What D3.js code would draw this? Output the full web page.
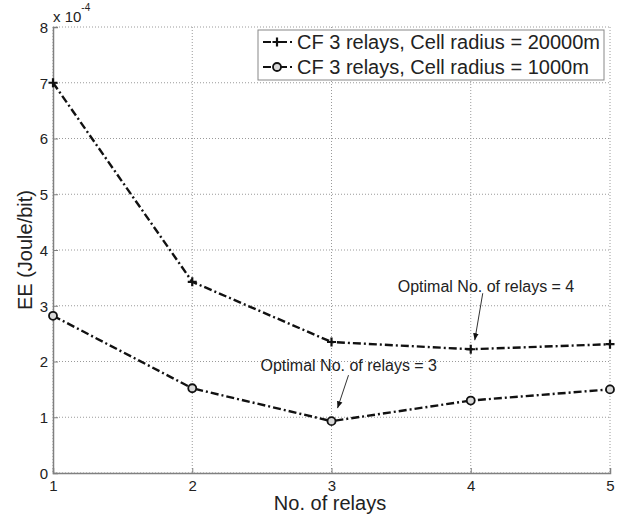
<!DOCTYPE html>
<html>
<head>
<meta charset="utf-8">
<script src="https://cdn.jsdelivr.net/npm/d3@7"></script>
<style>
  html, body { margin: 0; padding: 0; background: #fff; }
  svg { display: block; font-family: "Liberation Sans", Arial, Helvetica, sans-serif; }
</style>
</head>
<body>
<svg id="chart" width="620" height="518"></svg>
<script>
// ---- data ----
const relays = [1, 2, 3, 4, 5];
const ee20000 = [7.0e-4, 3.43e-4, 2.35e-4, 2.22e-4, 2.31e-4];
const ee1000  = [2.82e-4, 1.52e-4, 0.93e-4, 1.30e-4, 1.50e-4];
const seriesNames = ["CF 3 relays, Cell radius = 20000m", "CF 3 relays, Cell radius = 1000m"];
const xTicks = [1, 2, 3, 4, 5];
const yTicks = [0, 1e-4, 2e-4, 3e-4, 4e-4, 5e-4, 6e-4, 7e-4, 8e-4];
const annotations = [
  { text: "Optimal No. of relays = 4", series: 0, index: 3 },
  { text: "Optimal No. of relays = 3", series: 1, index: 2 }
];

(function () {
// ---- layout ----
const svg = d3.select("#chart");
const pL = 53, pR = 610, pT = 27, pB = 473;
const x = d3.scaleLinear().domain([1, 5]).range([pL, pR]);
const y = d3.scaleLinear().domain([0, 8e-4]).range([pB, pT]);
const dash = "8,3,2,3";
const gridColor = "#9a9a9a";
const axisColor = "#808080";

// grid
const g = svg.append("g");
g.selectAll(".vgrid").data(xTicks).join("line")
  .attr("x1", d => x(d)).attr("x2", d => x(d))
  .attr("y1", pT).attr("y2", pB)
  .attr("stroke", gridColor).attr("stroke-width", 1).attr("stroke-dasharray", "1,2");
g.selectAll(".hgrid").data(yTicks).join("line")
  .attr("x1", pL).attr("x2", pR)
  .attr("y1", d => y(d)).attr("y2", d => y(d))
  .attr("stroke", gridColor).attr("stroke-width", 1).attr("stroke-dasharray", "1,2");

// axes
const xAxis = d3.axisBottom(x).tickValues(xTicks).tickSize(-5).tickPadding(7).tickFormat(d3.format("d"));
const yAxis = d3.axisLeft(y).tickValues(yTicks).tickSize(-5).tickPadding(5).tickFormat(d => d3.format("d")(Math.round(d / 1e-4)));
const gx = svg.append("g").attr("transform", `translate(0,${pB})`).call(xAxis);
const gy = svg.append("g").attr("transform", `translate(${pL},0)`).call(yAxis);
[gx, gy].forEach(a => {
  a.select(".domain").attr("stroke", axisColor).attr("stroke-width", 1.5);
  a.selectAll(".tick line").attr("stroke", axisColor);
  a.selectAll(".tick text").attr("font-size", 15).attr("fill", "#222")
    .attr("font-family", "'Liberation Sans', Arial, sans-serif");
});
gx.selectAll(".tick text").attr("dy", "0.71em");
gy.selectAll(".tick text").attr("dy", "0.35em");

// exponent label
const expo = svg.append("text").attr("x", pL).attr("y", 22).attr("font-size", 15).attr("fill", "#222");
expo.append("tspan").text("x 10");
expo.append("tspan").attr("dy", -11).attr("font-size", 10).text("-4");

// axis titles
svg.append("text").attr("x", 330).attr("y", 510).attr("text-anchor", "middle")
  .attr("font-size", 20).attr("fill", "#222").text("No. of relays");
svg.append("text").attr("transform", `translate(25,${(pT + pB) / 2}) rotate(-90)`)
  .attr("text-anchor", "middle").attr("dominant-baseline", "central")
  .attr("font-size", 20).attr("fill", "#222").text("EE (Joule/bit)");

// lines
const allSeries = [ee20000, ee1000];
const line = d3.line().x((d, i) => x(relays[i])).y(d => y(d));
allSeries.forEach(s => {
  svg.append("path").datum(s).attr("d", line)
    .attr("fill", "none").attr("stroke", "#111").attr("stroke-width", 2.4)
    .attr("stroke-dasharray", dash);
});

// markers
function plus(sel, cx, cy) {
  sel.append("path").attr("d", `M${cx - 4.5},${cy}H${cx + 4.5}M${cx},${cy - 4.5}V${cy + 4.5}`)
    .attr("stroke", "#111").attr("stroke-width", 2.2);
}
function circ(sel, cx, cy) {
  sel.append("circle").attr("cx", cx).attr("cy", cy).attr("r", 4)
    .attr("fill", "#d8d8d8").attr("stroke", "#111").attr("stroke-width", 1.8);
}
const mk = svg.append("g");
ee20000.forEach((v, i) => plus(mk, x(relays[i]), y(v)));
ee1000.forEach((v, i) => circ(mk, x(relays[i]), y(v)));

// annotations
svg.append("defs").append("marker").attr("id", "ah").attr("viewBox", "0 0 10 10")
  .attr("refX", 10).attr("refY", 5).attr("markerWidth", 7).attr("markerHeight", 7)
  .attr("orient", "auto").attr("markerUnits", "userSpaceOnUse")
  .append("path").attr("d", "M0,1L10,5L0,9Z").attr("fill", "#111");
const annOffsets = [
  { tip: [4, -9], tail: [12, -56], tx: -73, ty: -57 },
  { tip: [6, -13], tail: [17, -46], tx: -71, ty: -50 }
];
annotations.forEach((a, k) => {
  const px = x(relays[a.index]), py = y(allSeries[a.series][a.index]);
  const o = annOffsets[k];
  svg.append("line")
    .attr("x1", px + o.tail[0]).attr("y1", py + o.tail[1])
    .attr("x2", px + o.tip[0]).attr("y2", py + o.tip[1])
    .attr("stroke", "#333").attr("stroke-width", 1).attr("marker-end", "url(#ah)");
  svg.append("text").attr("x", px + o.tx).attr("y", py + o.ty)
    .attr("font-size", 16).attr("fill", "#222").text(a.text);
});

// legend
const lg = svg.append("g");
lg.append("rect").attr("x", 258).attr("y", 30).attr("width", 346).attr("height", 50)
  .attr("fill", "#fff").attr("stroke", "#888").attr("stroke-width", 1);
seriesNames.forEach((name, i) => {
  const ly = 42 + i * 25;
  lg.append("line").attr("x1", 263).attr("x2", 293).attr("y1", ly).attr("y2", ly)
    .attr("stroke", "#111").attr("stroke-width", 2.2).attr("stroke-dasharray", dash);
  if (i === 0) plus(lg, 277, ly); else circ(lg, 277, ly);
  lg.append("text").attr("x", 297).attr("y", ly).attr("dy", "0.35em")
    .attr("font-size", 20).attr("fill", "#222").text(name);
});
})();
</script>
</body>
</html>
